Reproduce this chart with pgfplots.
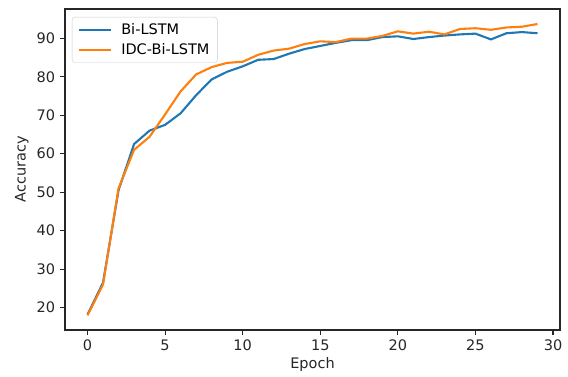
\documentclass[border=0pt]{standalone}
\usepackage{pgfplots}
\pgfplotsset{compat=1.18}
\usepackage{fontspec}
\setmainfont{DejaVu Sans}
\definecolor{c0}{HTML}{1F77B4}
\definecolor{c1}{HTML}{FF7F0E}
\begin{document}
\fontsize{14.5bp}{17bp}\selectfont
\begin{tikzpicture}
\begin{axis}[
  scale only axis,
  width=495bp, height=321bp,
  xmin=-1.45, xmax=30.45,
  ymin=14.2, ymax=97.6,
  xtick={0,5,...,30},
  ytick={20,30,...,90},
  tick pos=left,
  tick align=outside,
  major tick length=4.9bp,
  every tick/.style={black!85, line width=1.1bp},
  axis line style={black!85, line width=1.1bp},
  /pgf/number format/assume math mode=true,
  tick label style={font=\fontsize{14.5bp}{17bp}\selectfont, text=black!85},
  label style={font=\fontsize{14.5bp}{17bp}\selectfont, text=black!85},
  xlabel={Epoch},
  ylabel={Accuracy},
  xlabel style={yshift=3bp},
  ylabel style={yshift=-2bp},
  legend cell align=left,
  legend style={
    at={(0,1)}, anchor=north west,
    xshift=7bp, yshift=-8bp,
    draw=black!20, rounded corners=2.8bp, fill=white, fill opacity=0.8, text opacity=1,
    font=\fontsize{14.5bp}{17bp}\selectfont,
    inner xsep=6bp, inner ysep=4bp,
    row sep=3bp,
    /tikz/every odd column/.style={column sep=7bp},
  },
  legend image code/.code={\draw[#1] (0bp,0bp) -- (32bp,0bp);},
]
\addplot[c0, line width=2.1bp] coordinates {
(0,18.2) (1,26.5) (2,50.5) (3,62.5) (4,66.0) (5,67.5) (6,70.5) (7,75.2) (8,79.3) (9,81.3)
(10,82.7) (11,84.4) (12,84.6) (13,86.0) (14,87.2) (15,88.0) (16,88.8) (17,89.5) (18,89.5) (19,90.3)
(20,90.5) (21,89.8) (22,90.3) (23,90.7) (24,91.0) (25,91.2) (26,89.7) (27,91.3) (28,91.6) (29,91.3)
};
\addlegendentry{Bi-LSTM}
\addplot[c1, line width=2.1bp] coordinates {
(0,18.0) (1,26.0) (2,51.0) (3,61.0) (4,64.4) (5,70.2) (6,76.2) (7,80.6) (8,82.5) (9,83.6)
(10,83.9) (11,85.7) (12,86.8) (13,87.3) (14,88.5) (15,89.2) (16,89.0) (17,89.9) (18,89.9) (19,90.6)
(20,91.8) (21,91.2) (22,91.7) (23,91.0) (24,92.4) (25,92.6) (26,92.2) (27,92.8) (28,93.0) (29,93.7)
};
\addlegendentry{IDC-Bi-LSTM}
\end{axis}
\path[use as bounding box] ([xshift=-65bp,yshift=-47bp]current axis.south west) rectangle ([xshift=8bp,yshift=9bp]current axis.north east);
\end{tikzpicture}
\end{document}
